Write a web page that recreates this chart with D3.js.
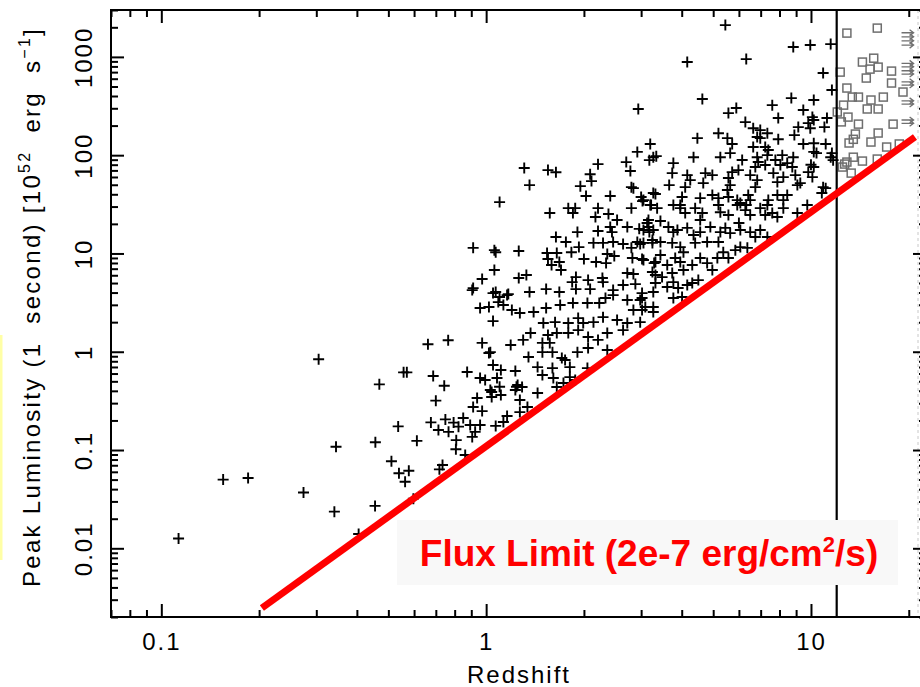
<!DOCTYPE html>
<html>
<head>
<meta charset="utf-8">
<script src="https://cdn.jsdelivr.net/npm/d3@7"></script>
<style>
  body { margin: 0; background: #fff; }
  svg { display: block; font-family: "Liberation Sans", Arial, sans-serif; }
</style>
</head>
<body>
<div id="chart"></div>
<script>
// bursts with known redshift: [z, peak luminosity in 1e52 erg/s]
var bursts = [
  [0.113,0.0126],[0.155,0.050],[0.185,0.052],[0.274,0.037],[0.305,0.84],[0.341,0.0236],[0.345,0.108],[0.405,0.014],
  [0.455,0.027],[0.456,0.12],[0.469,0.466],[0.511,0.077],[0.536,0.174],[0.539,0.058],[0.578,0.0615],[0.563,0.0476],
  [0.557,0.617],[0.570,0.617],[0.612,0.124],[0.597,0.032],[0.662,1.19],[0.764,1.31],[0.687,0.566],[0.743,0.451],
  [0.70,0.318],[0.676,0.191],[0.713,0.160],[0.749,0.205],[0.766,0.153],[0.794,0.19],[0.809,0.126],[0.807,0.102],
  [0.734,0.0703],[0.718,0.0636],[0.822,0.173],
  [2.94,295],[3.20,130],[2.92,108],[3.34,97.7],[3.18,89],[2.21,81],[2.70,85],[1.31,74],[1.55,70.5],[1.64,67],
  [2.78,69],[2.09,64],[1.36,49.6],[2.11,54.5],[1.95,48.4],[2.80,47.3],[2.84,46.2],[2.03,38.4],[2.41,38.4],[3.00,37.5],
  [3.32,40.2],[3.03,34.1],[3.22,31.1],[1.10,33.3],[1.57,25.8],[1.79,28.9],[1.88,28.9],[1.85,25.8],[2.21,28.9],
  [2.17,23.5],[2.38,25.2],[2.80,28.9],[2.53,21.9],[3.16,21.9],[1.91,16.5],[2.21,16.9],[2.41,18.6],[2.44,16.5],
  [2.72,18.6],[2.96,17.8],[3.16,18.6],[3.18,16.5],[1.64,14.7],[1.76,13.1],[0.912,11.4],[1.06,10.8],[1.07,10.3],
  [1.26,10.6],[1.54,10.1],[1.65,10.1],[1.83,10.3],[1.93,11.6],[2.14,12.8],[2.29,12.8],[2.46,13.1],[2.64,12.5],
  [2.92,13.1],[2.98,12.5],[3.25,13.7],[2.80,11.4],[2.36,9.86],[1.55,8.78],[1.68,8.18],[2.00,8.78],[2.18,8.18],
  [2.48,9.41],[2.34,7.98],[2.82,8.98],[3.02,8.78],[3.29,7.98],[1.59,7.62],[1.70,6.78],[1.06,6.78],[0.972,5.49],
  [1.26,5.62],[1.33,6.03],[2.84,6.17],[2.72,6.32],[3.32,6.03],[1.89,5.75],[2.06,5.36],[2.28,5.62],[2.29,5.11],
  [1.84,5.11],[0.906,4.24],[1.07,4.05],[1.17,3.86],[1.36,4.05],[1.53,4.34],[1.68,4.05],[1.89,4.34],[2.09,4.34],
  [2.46,4.24],[2.64,4.77],[2.88,4.88],[3.02,3.95],[3.32,5.00],
  [1.05,3.95],[1.16,3.77],[0.958,2.79],[1.02,2.85],[1.13,2.99],[1.20,2.66],[1.27,2.48],[1.40,2.54],[1.53,2.79],
  [1.69,2.99],[1.05,2.05],[1.85,3.13],[2.05,3.13],[2.23,3.13],[2.33,3.52],[2.46,3.77],[2.72,3.36],[2.98,3.36],
  [3.02,2.66],[2.84,2.66],[3.27,2.85],[1.50,1.96],[1.63,2.00],[1.79,1.96],[1.92,2.20],[1.99,1.96],[2.14,2.00],
  [2.29,2.25],[2.53,2.10],[2.72,1.96],[2.98,2.00],[1.37,1.55],[1.55,1.48],[1.65,1.55],[1.79,1.55],[1.92,1.66],
  [2.06,1.41],[2.21,1.32],[2.36,1.55],[2.64,1.66],[1.30,1.32],[1.49,1.23],[1.57,1.23],[0.972,1.23],[1.19,1.17],
  [1.02,0.97],[1.03,0.99],[1.35,0.884],[1.49,0.99],[1.71,0.863],[1.75,0.823],[1.60,0.99],[1.91,0.99],[2.06,1.09],
  [2.36,1.04],[1.05,0.732],[1.11,0.651],[1.23,0.636],[1.44,0.698],[1.49,0.579],[1.60,0.682],[1.81,0.698],
  [1.81,0.552],[2.05,0.682],[0.874,0.621],[0.993,0.515],[1.08,0.540],[1.25,0.458],[1.29,0.437],[1.65,0.437],
  [1.61,0.540],[1.73,0.480],[1.88,0.515],[1.03,0.408],[1.11,0.363],[1.23,0.408],[1.44,0.38],[0.938,0.338],
  [1.04,0.346],[1.27,0.323],[1.34,0.274],[0.912,0.274],[0.972,0.249],[1.16,0.222],[1.27,0.243],[0.850,0.212],
  [0.893,0.180],[0.958,0.180],[1.07,0.176],[1.13,0.193],[0.906,0.136],[0.925,0.153],[0.862,0.089],
  [0.912,4.44],[1.10,3.6],[1.09,3.20],[0.958,0.54],[1.10,0.44],[1.04,0.39],[1.24,0.44],
  [5.45,2106],[8.82,1259],[9.95,1319],[11.5,1350],[4.16,886],[6.32,950],[10.9,685],[11.6,460],[4.63,373],
  [5.57,268],[5.89,302],[7.60,323],[8.70,381],[10.2,364],[7.93,239],[9.47,288],[10.1,244],[10.2,228],[6.28,217],
  [9.14,193],[9.81,212],[9.95,188],[11.0,193],[11.2,239],[6.64,188],[6.98,180],[7.34,167],[6.83,153],[6.98,149],
  [5.19,167],[5.53,149],[4.47,149],[8.89,160],[3.27,95.4],[7.93,145],[5.72,130],[5.64,105],[6.64,121],[7.23,121],
  [7.39,113],[9.47,130],[10.2,108],[11.1,130],[11.5,95.4],[4.35,95.4],[5.26,95.4],[6.14,89.2],[6.83,95.4],
  [7.34,100],[7.77,89.2],[8.16,100],[8.82,95.4],[3.77,83.1],[3.74,65.7],[3.66,49.6],[4.73,65.7],[4.97,62.7],
  [4.66,52.0],[5.72,67.3],[5.98,70.5],[6.88,85.1],[6.74,75.7],[7.23,79.3],[8.05,79.3],[8.45,83.1],[8.76,75.7],
  [8.95,62.7],[10.2,75.7],[9.81,67.3],[10.1,59.8],[4.16,62.7],[4.25,55.8],[4.10,47.3],[5.57,58.5],[5.64,49.6],
  [5.53,44.2],[6.50,62.7],[6.83,55.8],[6.74,47.3],[7.66,65.7],[7.88,53.2],[8.22,59.8],[9.27,52.0],[9.08,49.6],
  [10.9,47.3],[11.1,46.2],[10.8,41.2],[3.27,41.2],[3.05,34.9],[3.20,31.1],[4.01,37.5],[3.96,31.1],[3.77,31.1],
  [4.56,36.6],[4.97,39.3],[5.19,36.6],[5.19,31.1],[5.57,37.5],[5.93,34.9],[5.93,31.1],[6.41,39.3],[6.50,34.9],
  [6.32,31.1],[7.39,34.9],[7.34,31.1],[7.88,39.3],[8.45,39.3],[8.22,34.9],[9.74,31.1],
  [10.0,80],[10.4,105],[10.2,132],[11.6,105],[11.7,89],
  [3.36,28.9],[3.96,28.9],[4.10,25.8],[4.40,28.9],[4.63,25.8],[4.56,21.9],[5.26,26.3],[5.57,24.6],[6.06,32.6],
  [6.28,27.6],[6.50,24.6],[6.98,28.9],[7.23,24.6],[7.60,25.8],[7.88,23.5],[8.22,28.9],[9.08,25.8],[3.13,20.4],
  [3.05,17.3],[3.27,17.3],[3.44,21.4],[3.64,18.6],[3.77,16.5],[3.88,17.3],[4.16,18.2],[4.35,15.4],[4.56,16.5],
  [4.90,18.6],[5.26,16.5],[5.45,18.2],[5.64,16.1],[6.00,20.4],[6.06,17.3],[6.50,16.5],[6.98,17.3],[6.74,14.7],
  [7.34,14.7],[3.05,12.8],[3.25,12.8],[3.44,13.1],[3.74,12.8],[3.96,11.6],[4.05,10.3],[4.40,12.8],[4.79,13.1],
  [5.19,13.1],[5.37,10.3],[5.57,8.98],[5.85,10.8],[6.06,11.6],[6.37,11.4],[3.05,8.57],[3.32,8.18],[3.44,9.63],
  [3.61,7.62],[3.82,8.98],[3.96,8.18],[4.05,6.78],[4.31,7.62],[4.56,8.98],[4.79,7.98],[4.97,6.78],[5.15,8.98],
  [3.25,6.48],[3.48,5.75],[3.74,6.32],[3.61,4.55],[3.77,5.11],[3.90,4.45],[4.16,4.77],[4.31,5.00],[4.50,5.36],
  [3.27,4.05],[3.02,3.52],[3.09,2.85],[3.77,3.52],[4.01,3.60],[3.27,2.54]
];

// simulated bursts beyond the cut (grey squares)
var highZ = [
  [12.9,1746],[16.0,1963],[14.4,886],[15.6,970],[16.1,787],[15.2,751],[17.7,717],[12.3,700],[14.8,609],[17.7,542],
  [12.9,482],[19.2,439],[13.4,390],[14.0,390],[15.3,364],[16.7,390],[12.6,323],[14.9,295],[16.1,295],[12.05,275],
  [13.0,244],[12.4,218],[14.0,207],[17.9,207],[16.1,168],[13.7,164],[13.5,145],[13.1,133],[15.3,136],[17.1,121],
  [18.7,130],[13.5,95.4],[14.4,87.1],[16.0,91.3],[12.9,85.1],[12.7,81.2],[12.5,75.7],[13.3,65.7]
];

// lower limits in z (arrows at right edge)
var limitL = [1760, 1600, 1458, 1318, 859, 793, 723, 669, 558, 517, 357, 331, 228, 211];
var limitZ = [19.0, 20.7];

var zCut = 12;
var fluxLine = [[0.204, 0.00247], [20.9, 153]];

var xMajor = [0.1, 1, 10];
var xLabels = ['0.1', '1', '10'];
var yMajor = [0.01, 0.1, 1, 10, 100, 1000];
var yLabels = ['0.01', '0.1', '1', '10', '100', '1000'];

var W = 920, H = 687;
var plotL = 111, plotR = 926, plotT = 10, plotB = 617;

var svg = d3.select('#chart').append('svg')
  .attr('width', W)
  .attr('height', H);

svg.append('rect').attr('width', W).attr('height', H).attr('fill', '#fff');

var x = d3.scaleLog().domain([0.07, 22.6]).range([plotL, plotR]);
var y = d3.scaleLog().domain([0.002, 3000]).range([plotB, plotT]);

function isDecade(v) {
  var l = Math.log10(v);
  return Math.abs(l - Math.round(l)) < 1e-6;
}
var xMinor = x.ticks().filter(function (v) { return !isDecade(v); });
var yMinor = y.ticks().filter(function (v) { return !isDecade(v); });

// faint marks at the picture edges
svg.append('rect').attr('x', 0).attr('y', 335).attr('width', 2.5).attr('height', 225).attr('fill', '#ffffa6');
svg.append('line')
  .attr('x1', 918).attr('x2', 918).attr('y1', plotT).attr('y2', plotB)
  .attr('stroke', '#c8c8c8').attr('stroke-width', 1).attr('stroke-dasharray', '3,3');

function styleAxis(g) {
  g.select('.domain').remove();
  g.selectAll('line').attr('stroke', '#000').attr('stroke-width', 2);
  g.attr('font-size', 24).attr('font-family', '"Liberation Sans", Arial, sans-serif');
  g.selectAll('text').attr('fill', '#000').attr('letter-spacing', 2);
}

// minor ticks, all four sides
svg.append('g').attr('transform', 'translate(0,' + plotB + ')')
  .call(d3.axisBottom(x).tickValues(xMinor).tickSize(-7).tickFormat('')).call(styleAxis);
svg.append('g').attr('transform', 'translate(0,' + plotT + ')')
  .call(d3.axisTop(x).tickValues(xMinor).tickSize(-7).tickFormat('')).call(styleAxis);
svg.append('g').attr('transform', 'translate(' + plotL + ',0)')
  .call(d3.axisLeft(y).tickValues(yMinor).tickSize(-7).tickFormat('')).call(styleAxis);
svg.append('g').attr('transform', 'translate(' + plotR + ',0)')
  .call(d3.axisRight(y).tickValues(yMinor).tickSize(-7).tickFormat('')).call(styleAxis);

// major ticks
svg.append('g').attr('transform', 'translate(0,' + plotB + ')')
  .call(d3.axisBottom(x).tickValues(xMajor).tickSize(-13).tickPadding(16)
    .tickFormat(function (d, i) { return xLabels[i]; }))
  .call(styleAxis);
svg.append('g').attr('transform', 'translate(0,' + plotT + ')')
  .call(d3.axisTop(x).tickValues(xMajor).tickSize(-13).tickFormat('')).call(styleAxis);
var yAxis = svg.append('g').attr('transform', 'translate(' + plotL + ',0)')
  .call(d3.axisLeft(y).tickValues(yMajor).tickSize(-13)
    .tickFormat(function (d, i) { return yLabels[i]; }))
  .call(styleAxis);
yAxis.selectAll('text')
  .attr('transform', 'rotate(-90)')
  .attr('x', 0).attr('y', -19).attr('dy', 0)
  .attr('text-anchor', 'middle');
svg.append('g').attr('transform', 'translate(' + plotR + ',0)')
  .call(d3.axisRight(y).tickValues(yMajor).tickSize(-13).tickFormat('')).call(styleAxis);

svg.append('rect')
  .attr('x', plotL).attr('y', plotT)
  .attr('width', plotR - plotL).attr('height', plotB - plotT)
  .attr('fill', 'none').attr('stroke', '#000').attr('stroke-width', 2);

// data
svg.append('g').selectAll('path')
  .data(bursts)
  .enter().append('path')
  .attr('d', 'M-5.5,0H5.5M0,-5.5V5.5')
  .attr('transform', function (d) { return 'translate(' + x(d[0]) + ',' + y(d[1]) + ')'; })
  .attr('stroke', '#000')
  .attr('stroke-width', 1.9)
  .attr('fill', 'none');

svg.append('g').selectAll('rect')
  .data(highZ)
  .enter().append('rect')
  .attr('x', function (d) { return x(d[0]) - 4; })
  .attr('y', function (d) { return y(d[1]) - 4; })
  .attr('width', 8).attr('height', 8)
  .attr('fill', 'none')
  .attr('stroke', '#6e6e6e')
  .attr('stroke-width', 1.5);

svg.append('g').selectAll('path')
  .data(limitL)
  .enter().append('path')
  .attr('d', function (d) {
    var x0 = x(limitZ[0]), x1 = x(limitZ[1]), yy = y(d);
    return 'M' + x0 + ',' + yy + 'H' + x1 + 'M' + (x1 - 4) + ',' + (yy - 3) + 'L' + x1 + ',' + yy + 'L' + (x1 - 4) + ',' + (yy + 3);
  })
  .attr('fill', 'none')
  .attr('stroke', '#707070')
  .attr('stroke-width', 1.3);

svg.append('line')
  .attr('x1', x(zCut)).attr('x2', x(zCut))
  .attr('y1', plotT).attr('y2', plotB)
  .attr('stroke', '#000').attr('stroke-width', 2.2);

svg.append('path')
  .datum(fluxLine)
  .attr('d', d3.line().x(function (d) { return x(d[0]); }).y(function (d) { return y(d[1]); }))
  .attr('stroke', '#ff0000')
  .attr('stroke-width', 7)
  .attr('fill', 'none');

// flux limit label
svg.append('rect')
  .attr('x', 397).attr('y', 520).attr('width', 501).attr('height', 65)
  .attr('fill', '#f8f8f8');
var flux = svg.append('text')
  .attr('x', 649).attr('y', 566)
  .attr('text-anchor', 'middle')
  .attr('font-size', 37).attr('font-weight', 'bold')
  .attr('fill', '#ff0000');
flux.append('tspan').text('Flux Limit (2e-7 erg/cm');
flux.append('tspan').attr('font-size', 22).attr('dy', -14).text('2');
flux.append('tspan').attr('dy', 14).text('/s)');

// axis titles
svg.append('text')
  .attr('x', 519).attr('y', 683)
  .attr('text-anchor', 'middle')
  .attr('font-size', 24).attr('letter-spacing', 2)
  .text('Redshift');

var yt = svg.append('text')
  .attr('transform', 'translate(40,307) rotate(-90)')
  .attr('text-anchor', 'middle')
  .attr('font-size', 24).attr('letter-spacing', 2.3)
  .style('white-space', 'pre');
yt.append('tspan').text('Peak Luminosity (1  second) [10');
yt.append('tspan').attr('font-size', 16).attr('dy', -10).text('52');
yt.append('tspan').attr('dy', 10).text('  erg  s');
yt.append('tspan').attr('font-size', 16).attr('dy', -10).text('\u22121');
yt.append('tspan').attr('dy', 10).text(']');
</script>
</body>
</html>
